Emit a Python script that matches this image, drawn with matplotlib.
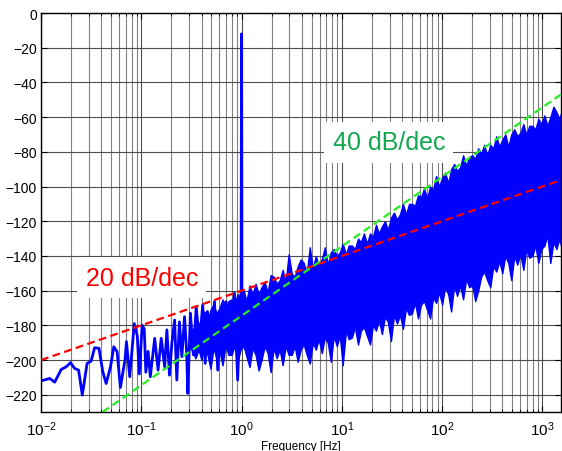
import matplotlib
matplotlib.use("Agg")
import matplotlib.pyplot as plt
from matplotlib.ticker import LogLocator, NullFormatter, MultipleLocator

plt.rcParams['font.family'] = ['Liberation Sans', 'DejaVu Sans']
plt.rcParams['mathtext.default'] = 'regular'

# low-frequency part of the spectrum, single trace (Hz, dB), incl. the 1 Hz line
trace_f = [0.0100, 0.0122, 0.0137, 0.0159, 0.0178, 0.0197, 0.0216, 0.0237, 0.0258, 0.0288,
           0.0316, 0.0342, 0.0378, 0.0413, 0.0446, 0.0493, 0.0532, 0.0574, 0.0619, 0.0689,
           0.0711, 0.0767, 0.0851, 0.0912, 0.0955, 0.102, 0.107, 0.111, 0.117, 0.123,
           0.136, 0.147, 0.158, 0.171, 0.180, 0.191, 0.202, 0.215, 0.226, 0.240,
           0.254, 0.270, 0.283, 0.291, 0.309, 0.331, 0.353, 0.380, 0.410, 0.434,
           0.457, 0.501, 0.537, 0.579, 0.631, 0.701, 0.759, 0.849, 0.914, 0.989,
           1.0, 1.009]
trace_db = [-212, -210.6, -212.7, -205.4, -203.9, -201.5, -204.8, -205.8, -220.2, -201.9,
            -200.6, -192.9, -193.2, -206.7, -213.5, -203.9, -192.3, -195.2, -215.8, -199.6,
            -189.4, -209.6, -179, -186, -208, -180, -182, -207, -195, -209.6,
            -187.5, -205.8, -187.5, -203.9, -182.6, -208.7, -190, -176.9, -211.5, -178,
            -198, -175, -195, -219.2, -173, -197, -169.2, -190, -168.2, -201.9,
            -172, -195, -166.3, -205.8, -170, -166.3, -190, -161.4, -211.5, -159.5,
            -12, -170]

# dense noise band from 0.3 Hz up: upper / lower edge (dB)
band_f = [0.302, 0.324, 0.347, 0.372,
          0.398, 0.427, 0.457, 0.490, 0.525, 0.562, 0.603, 0.646, 0.692, 0.741,
          0.794, 0.851, 0.912, 0.977, 1.05, 1.12, 1.20, 1.29, 1.38, 1.48,
          1.58, 1.70, 1.82, 1.95, 2.09, 2.24, 2.40, 2.57, 2.75, 2.95,
          3.16, 3.39, 3.63, 3.89, 4.17, 4.47, 4.79, 5.13, 5.50, 5.89,
          6.31, 6.76, 7.24, 7.76, 8.32, 8.91, 9.55, 10.2, 11.0, 11.7,
          12.6, 13.5, 14.5, 15.5, 16.6, 17.8, 19.1, 20.4, 21.9, 23.4,
          25.1, 26.9, 28.8, 30.9, 33.1, 35.5, 38.0, 40.7, 43.7, 46.8,
          50.1, 53.7, 57.5, 61.7, 66.1, 70.8, 75.9, 81.3, 87.1, 93.3,
          100, 107, 115, 123, 132, 141, 151, 162, 174, 186,
          200, 214, 229, 245, 263, 282, 302, 324, 347, 372,
          398, 427, 457, 490, 525, 562, 603, 646, 692, 741,
          794, 851, 912, 977, 1050, 1120, 1200, 1290, 1380, 1480,
          1530]
band_hi = [-190, -184, -178, -180,
           -176, -172, -178, -171, -168, -173, -170, -165, -171, -166,
           -165, -168, -162, -164, -160, -166, -157, -162, -156, -162,
           -158, -155, -161, -151, -152, -156, -154, -148, -155, -139,
           -150, -152, -146, -142, -144, -150, -135, -147, -140, -146,
           -142, -135, -145, -138, -136, -140, -138, -133, -139, -134,
           -134, -136, -130, -132, -127, -133, -127, -129, -122, -127,
           -123, -120, -125, -118, -115, -119, -116, -110, -116, -110,
           -110, -111, -105, -106, -101, -107, -100, -102, -94, -100,
           -95, -92, -98, -90, -87, -91, -89, -82, -88, -83,
           -82, -84, -78, -81, -76, -82, -76, -78, -71, -77,
           -73, -70, -77, -70, -67, -71, -69, -64, -70, -65,
           -65, -67, -61, -64, -59, -65, -60, -54, -57, -61,
           -58]
band_lo = [-192, -195, -199, -194,
           -200, -192, -197, -205, -193, -199, -195, -203, -192, -197,
           -197, -192, -201, -194, -192, -198, -204, -193, -197, -206,
           -200, -192, -196, -207, -193, -199, -194, -203, -192, -197,
           -197, -192, -201, -194, -191, -197, -202, -190, -194, -188,
           -196, -187, -190, -201, -186, -192, -186, -203, -183, -188,
           -187, -181, -191, -183, -181, -186, -191, -180, -183, -177,
           -185, -175, -178, -189, -174, -179, -174, -182, -170, -174,
           -173, -167, -176, -168, -166, -171, -176, -164, -167, -161,
           -168, -158, -162, -172, -157, -163, -157, -165, -153, -158,
           -157, -166, -160, -152, -149, -154, -158, -146, -149, -143,
           -150, -140, -144, -154, -140, -145, -139, -148, -136, -141,
           -140, -134, -144, -136, -134, -128, -144, -132, -136, -130,
           -134]

# slope reference lines
ref20_f = [0.01, 1530]
ref20_db = [-200, -96.3]
ref40_f = [0.041, 1530]
ref40_db = [-230, -47]

fig = plt.figure(figsize=(5.62, 4.52), dpi=100)
ax = fig.add_axes([0.073, 0.086, 0.925, 0.883])
ax.set_xscale('log')
ax.set_xlim(0.01, 1530)
ax.set_ylim(-230, 0)

ax.fill_between(band_f, band_lo, band_hi, color='#0000ff', lw=1.0, zorder=2)
ax.plot(trace_f, trace_db, color='#0000ff', lw=2.0, zorder=2)

ax.plot(ref20_f, ref20_db, color='#ff0000', lw=1.6, dashes=(3.5, 2), zorder=3)
ax.plot(ref40_f, ref40_db, color='#22ee22', lw=1.6, dashes=(3.5, 2), zorder=3)

ax.text(0.101, -152.5, '20 dB/dec', color='#ff0000', fontsize=18, ha='center', va='center',
        bbox=dict(facecolor='white', edgecolor='none', pad=6), zorder=4)
ax.text(29.4, -74.5, '40 dB/dec', color='#10a850', fontsize=18, ha='center', va='center',
        bbox=dict(facecolor='white', edgecolor='none', pad=6), zorder=4)

ax.yaxis.set_major_locator(MultipleLocator(20))
ax.xaxis.set_major_locator(LogLocator(base=10, numticks=10))
ax.xaxis.set_minor_locator(LogLocator(base=10, subs=range(2, 10), numticks=10))
ax.xaxis.set_minor_formatter(NullFormatter())

ax.set_axisbelow(True)
ax.grid(True, which='major', color='0.3', lw=0.8)
ax.grid(True, which='minor', axis='x', color='0.5', lw=0.8)

ax.tick_params(which='both', direction='in', top=True, right=True, labelsize=10)
ax.tick_params(which='major', length=4, width=0.8)
ax.tick_params(which='minor', length=2, width=0.6)
ax.tick_params(axis='x', labelsize=11, pad=5)
ax.tick_params(axis='y', pad=3)
for s in ax.spines.values():
    s.set_linewidth(1.0)

ax.set_xlabel('Frequency [Hz]', fontsize=8.5, labelpad=2)

fig.savefig('out.png', dpi=100)
